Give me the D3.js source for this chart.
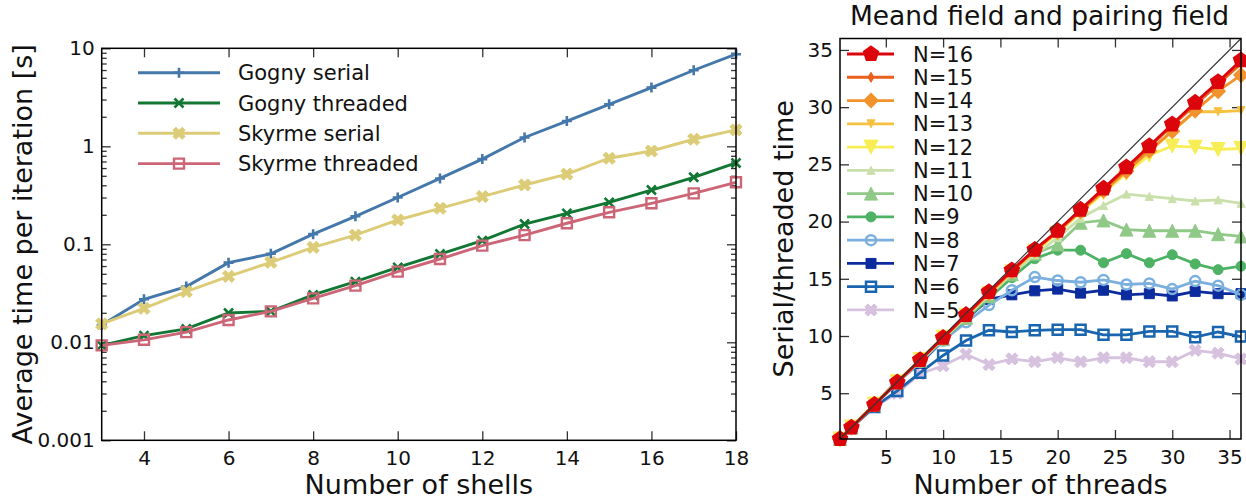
<!DOCTYPE html>
<html>
<head>
<meta charset="utf-8">
<script src="https://cdn.jsdelivr.net/npm/d3@7"></script>
<style>
  body { margin: 0; background: #fff; }
  text { font-family: "DejaVu Sans", sans-serif; fill: #111; }
</style>
</head>
<body>
<svg id="chart" width="1246" height="500"></svg>
<script>
// ---------- data: left panel (time per iteration) ----------
const shells = [3, 4, 5, 6, 7, 8, 9, 10, 11, 12, 13, 14, 15, 16, 17, 18];
const gognySerial   = [0.0150, 0.0275, 0.037, 0.065, 0.080, 0.127, 0.193, 0.30, 0.47, 0.74, 1.23, 1.81, 2.68, 3.97, 5.97, 8.7];
const gognyThreaded = [0.0093, 0.0117, 0.0137, 0.0199, 0.0207, 0.0304, 0.0416, 0.0582, 0.0796, 0.109, 0.161, 0.207, 0.268, 0.358, 0.483, 0.676];
const skyrmeSerial  = [0.0154, 0.0222, 0.0329, 0.0471, 0.0655, 0.093, 0.124, 0.177, 0.233, 0.307, 0.403, 0.52, 0.755, 0.895, 1.18, 1.47];
const skyrmeThreaded = [0.0093, 0.0106, 0.0127, 0.0169, 0.0207, 0.0281, 0.0379, 0.0526, 0.0708, 0.097, 0.124, 0.164, 0.212, 0.262, 0.331, 0.429];
const leftNames = ["Gogny serial", "Gogny threaded", "Skyrme serial", "Skyrme threaded"];
const leftMajorTicks = [0.001, 0.01, 0.1, 1, 10];
const leftMinorTicks = [0.002, 0.003, 0.004, 0.005, 0.006, 0.007, 0.008, 0.009,
  0.02, 0.03, 0.04, 0.05, 0.06, 0.07, 0.08, 0.09, 0.2, 0.3, 0.4, 0.5, 0.6, 0.7, 0.8, 0.9,
  2, 3, 4, 5, 6, 7, 8, 9];
const shellTicks = [4, 6, 8, 10, 12, 14, 16, 18];

// ---------- data: right panel (speedup) ----------
const threads = [1, 2, 4, 6, 8, 10, 12, 14, 16, 18, 20, 22, 24, 26, 28, 30, 32, 34, 36];
const n5  = [1, 1.95, 3.8, 5.0, 6.7, 7.4, 8.4, 7.5, 8.0, 7.75, 8.1, 7.75, 8.1, 8.1, 7.75, 7.75, 8.75, 8.5, 8.0];
const n6  = [1, 2.0, 3.8, 5.2, 6.8, 8.3, 9.6, 10.5, 10.35, 10.5, 10.55, 10.55, 10.1, 10.1, 10.4, 10.4, 9.9, 10.35, 9.95];
const n7  = [1, 2.0, 4.0, 6.1, 7.6, 9.6, 11.5, 13.2, 13.6, 13.95, 14.1, 13.75, 14.0, 13.6, 13.7, 13.5, 13.9, 13.7, 13.7];
const n8  = [1, 2.0, 3.95, 5.9, 7.7, 9.6, 11.2, 12.7, 14.0, 15.15, 14.85, 14.7, 14.9, 14.5, 14.6, 14.1, 14.8, 14.4, 13.6];
const n9  = [1, 2.0, 4.0, 5.95, 7.8, 9.7, 11.5, 13.3, 15.1, 16.75, 17.5, 17.5, 16.4, 17.2, 16.4, 17.1, 16.3, 15.8, 16.1];
const n10 = [1, 2.0, 4.0, 5.95, 7.85, 9.75, 11.6, 13.5, 15.4, 17.2, 18.0, 19.9, 20.1, 19.3, 19.2, 19.2, 19.2, 18.9, 18.7];
const n11 = [1, 2.0, 4.0, 5.95, 7.85, 9.75, 11.65, 13.55, 15.45, 17.1, 18.6, 20.3, 21.4, 22.4, 22.2, 22.0, 21.8, 21.9, 21.6];
const n12 = [1, 2.05, 4.05, 6.0, 7.95, 9.9, 11.8, 13.7, 15.6, 17.4, 19.0, 20.8, 22.5, 24.2, 25.8, 26.6, 26.5, 26.3, 26.4];
const n13 = [1, 2.0, 4.0, 6.0, 7.9, 9.85, 11.8, 13.7, 15.6, 17.4, 19.1, 20.9, 22.6, 24.4, 26.1, 27.9, 29.6, 29.6, 29.7];
const n14 = [1, 2.0, 4.0, 6.0, 7.9, 9.85, 11.8, 13.75, 15.65, 17.5, 19.1, 20.9, 22.7, 24.4, 26.2, 27.9, 29.7, 31.4, 32.8];
const n15 = [1, 2.0, 4.0, 5.95, 7.9, 9.85, 11.8, 13.75, 15.7, 17.55, 19.2, 21.0, 22.8, 24.6, 26.5, 28.4, 30.2, 32.0, 33.8];
const n16 = [1, 2.0, 4.0, 5.95, 7.9, 9.85, 11.85, 13.85, 15.75, 17.55, 19.2, 21.05, 22.9, 24.75, 26.6, 28.5, 30.4, 32.2, 34.1];
const rightNames = ["N=5", "N=6", "N=7", "N=8", "N=9", "N=10", "N=11", "N=12", "N=13", "N=14", "N=15", "N=16"];
const threadTicks = [5, 10, 15, 20, 25, 30, 35];

// ---------- styles ----------
const leftColors = ["#4477aa", "#117733", "#ddcc77", "#cc6677"];
const leftMarkers = [
  { shape: "plus", r: 5, fill: false, sw: 2.6 },
  { shape: "x", r: 4.5, fill: false, sw: 2.6 },
  { shape: "X", r: 6.5, fill: true, sw: 1 },
  { shape: "square", r: 5, fill: false, sw: 2.4 }
];
const rightColors = ["#d6c1de", "#1965b0", "#0c2c9e", "#7bafde", "#4eb265", "#90c987",
  "#cae0ab", "#f7ee55", "#f6c141", "#f1932d", "#e8601c", "#dc050c"];
const rightMarkers = [
  { shape: "X", r: 6.5, fill: true, sw: 1 },
  { shape: "square", r: 5, fill: false, sw: 2.5 },
  { shape: "square", r: 5, fill: true, sw: 1 },
  { shape: "circle", r: 5, fill: false, sw: 2.5 },
  { shape: "circle", r: 5, fill: true, sw: 1 },
  { shape: "triUp", r: 6.5, fill: true, sw: 1 },
  { shape: "triUp", r: 4, fill: true, sw: 1 },
  { shape: "triDown", r: 7, fill: true, sw: 1 },
  { shape: "triDown", r: 4, fill: true, sw: 1 },
  { shape: "diamond", r: 7, fill: true, sw: 1.5 },
  { shape: "thinDiamond", r: 5, fill: true, sw: 1 },
  { shape: "pentagon", r: 7.5, fill: true, sw: 2 }
];

// marker path centred on 0,0
function markerPath(shape, r) {
  switch (shape) {
    case "plus": return `M${-r},0H${r}M0,${-r}V${r}`;
    case "x": return `M${-r},${-r}L${r},${r}M${-r},${r}L${r},${-r}`;
    case "square": return `M${-r},${-r}H${r}V${r}H${-r}Z`;
    case "circle": return d3.symbol(d3.symbolCircle, Math.PI * r * r)();
    case "diamond": return `M0,${-r}L${r},0L0,${r}L${-r},0Z`;
    case "thinDiamond": return `M0,${-r}L${r * 0.6},0L0,${r}L${-r * 0.6},0Z`;
    case "triUp": return `M0,${-r}L${r},${r}L${-r},${r}Z`;
    case "triDown": return `M0,${r}L${r},${-r}L${-r},${-r}Z`;
    case "pentagon": {
      const pts = d3.range(5).map(k => {
        const a = -Math.PI / 2 + k * 2 * Math.PI / 5;
        return [r * Math.cos(a), r * Math.sin(a)];
      });
      return "M" + pts.map(p => p.join(",")).join("L") + "Z";
    }
    case "X": {
      const t = r * 0.32;
      const plus = [[-t, -r], [t, -r], [t, -t], [r, -t], [r, t], [t, t], [t, r], [-t, r], [-t, t], [-r, t], [-r, -t], [-t, -t]];
      const s = Math.SQRT1_2;
      return "M" + plus.map(([x, y]) => [(x - y) * s, (x + y) * s].join(",")).join("L") + "Z";
    }
  }
}

function drawMarkers(g, pts, color, m) {
  g.selectAll(null)
    .data(pts)
    .join("path")
    .attr("transform", d => `translate(${d[0]},${d[1]})`)
    .attr("d", markerPath(m.shape, m.r))
    .attr("fill", m.fill ? color : "none")
    .attr("stroke", color)
    .attr("stroke-width", m.sw)
    .attr("stroke-linejoin", "miter");
}

function styleTicks(g) {
  g.select(".domain").remove();
  g.selectAll(".tick line").attr("stroke", "#333").attr("stroke-width", 1.3);
  g.selectAll(".tick text").style("font-size", "20px").attr("fill", "#111");
}

const svg = d3.select("#chart");

// ================= left panel =================
const L = { left: 101.7, right: 736, top: 48.3, bottom: 440.3 };
const xL = d3.scaleLinear().domain([3, 18]).range([L.left, L.right]);
const yL = d3.scaleLog().domain([0.001, 10]).range([L.bottom, L.top]);

const gl = svg.append("g");

// axes (ticks pointing inward)
gl.append("g")
  .attr("transform", `translate(0,${L.bottom})`)
  .call(d3.axisBottom(xL).tickValues(shellTicks).tickSize(-9).tickPadding(11))
  .call(styleTicks);
gl.append("g")
  .attr("transform", `translate(0,${L.top})`)
  .call(d3.axisTop(xL).tickValues(shellTicks).tickSize(-9).tickFormat(""))
  .call(styleTicks);
gl.append("g")
  .attr("transform", `translate(${L.left},0)`)
  .call(d3.axisLeft(yL).tickValues(leftMajorTicks).tickSize(-9).tickPadding(7).tickFormat(d3.format("~g")))
  .call(styleTicks);
gl.append("g")
  .attr("transform", `translate(${L.left},0)`)
  .call(d3.axisLeft(yL).tickValues(leftMinorTicks).tickSize(-5).tickFormat(""))
  .call(styleTicks);
gl.append("g")
  .attr("transform", `translate(${L.right},0)`)
  .call(d3.axisRight(yL).tickValues(leftMajorTicks).tickSize(-9).tickFormat(""))
  .call(styleTicks);
gl.append("g")
  .attr("transform", `translate(${L.right},0)`)
  .call(d3.axisRight(yL).tickValues(leftMinorTicks).tickSize(-5).tickFormat(""))
  .call(styleTicks);

const leftSeries = [gognySerial, gognyThreaded, skyrmeSerial, skyrmeThreaded];
const lineL = d3.line().x((d, i) => xL(shells[i])).y(d => yL(d));

leftSeries.forEach((vals, k) => {
  gl.append("path")
    .attr("d", lineL(vals))
    .attr("fill", "none")
    .attr("stroke", leftColors[k])
    .attr("stroke-width", 2.9);
  drawMarkers(gl.append("g"), vals.map((v, i) => [xL(shells[i]), yL(v)]), leftColors[k], leftMarkers[k]);
});

// frame
gl.append("rect")
  .attr("x", L.left).attr("y", L.top)
  .attr("width", L.right - L.left).attr("height", L.bottom - L.top)
  .attr("fill", "none").attr("stroke", "#000").attr("stroke-width", 1.5);

// legend
leftNames.forEach((name, k) => {
  const y = 72.7 + k * 30.3;
  const lg = gl.append("g");
  lg.append("line").attr("x1", 138).attr("x2", 220).attr("y1", y).attr("y2", y)
    .attr("stroke", leftColors[k]).attr("stroke-width", 2.9);
  drawMarkers(lg, [[179, y]], leftColors[k], leftMarkers[k]);
  lg.append("text").attr("x", 238).attr("y", y).attr("dy", "0.36em")
    .style("font-size", "21px").text(name);
});

// axis labels
gl.append("text")
  .attr("x", (L.left + L.right) / 2).attr("y", 494)
  .attr("text-anchor", "middle").style("font-size", "27px")
  .text("Number of shells");
gl.append("text")
  .attr("transform", `translate(32,${(L.top + L.bottom) / 2}) rotate(-90)`)
  .attr("text-anchor", "middle").style("font-size", "27px")
  .text("Average time per iteration [s]");

// ================= right panel =================
const R = { left: 840, right: 1241, top: 38.5, bottom: 439 };
const xR = d3.scaleLinear().domain([1, 36]).range([R.left, R.right]);
const yR = d3.scaleLinear().domain([1, 36]).range([R.bottom, R.top]);

const gr = svg.append("g");

gr.append("g")
  .attr("transform", `translate(0,${R.bottom})`)
  .call(d3.axisBottom(xR).tickValues(threadTicks).tickSize(-9).tickPadding(11))
  .call(styleTicks);
gr.append("g")
  .attr("transform", `translate(0,${R.top})`)
  .call(d3.axisTop(xR).tickValues(threadTicks).tickSize(-9).tickFormat(""))
  .call(styleTicks);
gr.append("g")
  .attr("transform", `translate(${R.left},0)`)
  .call(d3.axisLeft(yR).tickValues(threadTicks).tickSize(-9).tickPadding(7))
  .call(styleTicks);
gr.append("g")
  .attr("transform", `translate(${R.right},0)`)
  .call(d3.axisRight(yR).tickValues(threadTicks).tickSize(-9).tickFormat(""))
  .call(styleTicks);

const rightSeries = [n5, n6, n7, n8, n9, n10, n11, n12, n13, n14, n15, n16];
const lineR = d3.line().x((d, i) => xR(threads[i])).y(d => yR(d));

rightSeries.forEach((vals, k) => {
  gr.append("path")
    .attr("d", lineR(vals))
    .attr("fill", "none")
    .attr("stroke", rightColors[k])
    .attr("stroke-width", 2.8);
  drawMarkers(gr.append("g"), vals.map((v, i) => [xR(threads[i]), yR(v)]), rightColors[k], rightMarkers[k]);
});

// ideal scaling diagonal
gr.append("line")
  .attr("x1", xR(1)).attr("y1", yR(1)).attr("x2", xR(36)).attr("y2", yR(36))
  .attr("stroke", "#333").attr("stroke-width", 1.1);

gr.append("rect")
  .attr("x", R.left).attr("y", R.top)
  .attr("width", R.right - R.left).attr("height", R.bottom - R.top)
  .attr("fill", "none").attr("stroke", "#000").attr("stroke-width", 1.5);

// legend (N=16 on top)
rightNames.slice().reverse().forEach((name, j) => {
  const k = rightNames.length - 1 - j;
  const y = 54 + j * 23.27;
  const lg = gr.append("g");
  lg.append("line").attr("x1", 847).attr("x2", 894).attr("y1", y).attr("y2", y)
    .attr("stroke", rightColors[k]).attr("stroke-width", 2.8);
  drawMarkers(lg, [[871, y]], rightColors[k], rightMarkers[k]);
  lg.append("text").attr("x", 913).attr("y", y).attr("dy", "0.36em")
    .style("font-size", "21px").text(name);
});

gr.append("text")
  .attr("x", (R.left + R.right) / 2).attr("y", 494)
  .attr("text-anchor", "middle").style("font-size", "27px")
  .text("Number of threads");
gr.append("text")
  .attr("transform", `translate(793,${(R.top + R.bottom) / 2}) rotate(-90)`)
  .attr("text-anchor", "middle").style("font-size", "27px")
  .text("Serial/threaded time");
gr.append("text")
  .attr("x", (R.left + R.right) / 2 - 1).attr("y", 25)
  .attr("text-anchor", "middle").style("font-size", "26.5px")
  .text("Meand field and pairing field");
</script>
</body>
</html>
